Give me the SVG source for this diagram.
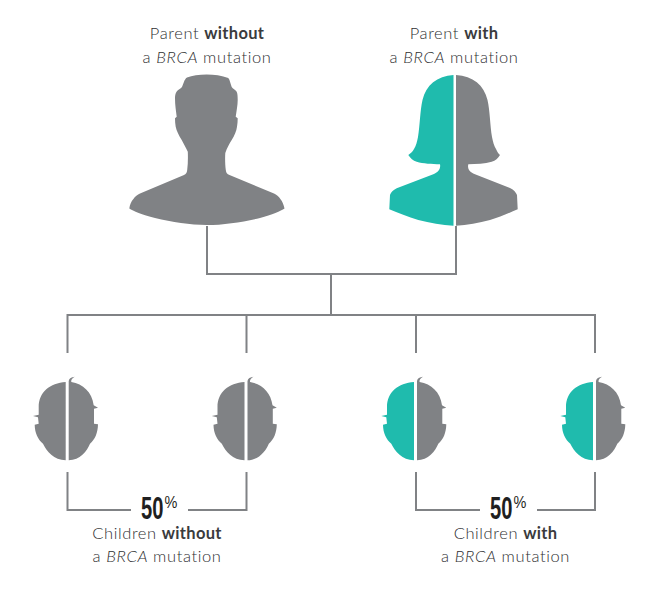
<svg xmlns="http://www.w3.org/2000/svg" width="666" height="608" viewBox="0 0 666 608">
<style>
.t{font-family:"Lato","Open Sans","Liberation Sans",sans-serif;font-weight:300;font-size:16.5px;fill:#2f3032;text-anchor:middle;letter-spacing:.6px}
.b{font-weight:700;fill:#3a3b3d;letter-spacing:.3px}
.i{font-style:italic}
.c{fill:none;stroke:#808285;stroke-width:2}
.g{fill:#808285}
.e{fill:#1fbbad}
.n{font-family:"Liberation Sans",sans-serif;font-weight:700;fill:#1f1f21}
.p{font-family:"Liberation Sans",sans-serif;font-weight:400;fill:#1f1f21}
</style>
<defs>
<path id="hl" d="M65.700 382C50 383 38.700 392 38.700 407L38.700 414.700L33 416L38 417.300L38.700 423.700L34.700 424.700C34.800 433 38 439.500 43 443.700C46.500 451 54 460 65.700 460.300Z"/>
<path id="hr" d="M68.700 460.300C80 460 87 451 90 443.700C95 439.500 97.800 433 98 424.300L94 423.700L94 408.700L98 407.700L93.700 405.300C92 392 83 384 71.300 382C70.800 380 72 378.500 74.700 376.700C71.500 377 69 378.500 68.700 381Z"/>
</defs>
<g id="connectors">
<path class="c" d="M207 226V274H456V226M331 274V315M67.500 353V315H595V353M246.500 315V353M416 315V353"/>
<path class="c" d="M67.500 472V510H131M188 510H246.500V472M416 472V510H480M537 510H595V472"/>
</g>
<g id="parent-without">
<path class="g" d="M206.700 74.500C199 74.500 192 75.500 187 77.500C184 79.500 183.500 84 182 87C180.500 89 178 89.500 176.700 91.500C175.300 93.500 175 96 175 98.300C175 105 176 111 176.700 116.700L175 118.300C175 121 175.200 124 175.700 126.700C176.500 131 179 135.500 181.700 140C183.500 143.500 186 148 187.800 151.700C188 157 188 164 187.200 170C186.800 173 186 174 184 175L140 193.500C135 196 130.500 201 129.300 208.500C133 211 142 215 155 218C172 222 190 225 206.700 225C224 225 243 222 260 218C272 215 281 211 284.500 208.500C283 201 279 196 274 193.500L229.500 175C227 174 226.200 173 225.800 170C225 164 225 157 225.300 153C227 148 229.500 143.500 231.700 140C234.500 135.500 236.500 131 237 126.700C237.500 124 237.700 121 237.700 118.300L235.700 116.700C236.500 111 237.700 105 237.700 100C237.700 96 237.500 93.500 236.700 91.700C235 89.500 233 89 231.700 87C230.500 84 230 80 228.300 78C222 75.500 214 74.500 206.700 74.500Z"/>
<text class="t" x="207" y="38.500">Parent <tspan class="b">without</tspan></text>
<text class="t" x="207" y="62.500">a <tspan class="i">BRCA</tspan> mutation</text>
</g>
<g id="parent-with">
<path class="e" d="M453.500 75C437 76 426 85 422.500 100C420 111 420 125 418 137C417 142 416 146 414 149C412.500 152 410.500 153.500 408.300 155C410.500 158.500 413 160.500 416.700 161.700C423 163.700 432 164 440 164.300C440.500 166.500 440 168.500 439 170C437.500 172 435.500 173.500 433.300 174.300L396.700 188.300C393 190 391 192.500 390 195L389.300 209.300C398 213 408 217 418.300 220C430 223 442 225 453.500 225.700Z"/>
<path class="g" d="M456 75C473 76 484 85 487.500 100C490 111 490 125 492 137C493 142 494 146 496 149C497.500 152 498 153.500 500 155C498 158.500 495.500 160.500 491.700 161.700C485 163.700 476 164 468.300 164.300C467.800 166.500 468 168.500 469 170C470.500 172 472.500 173.500 475 174.300L510 188C514 190 516 192.500 517 195L517.700 209.300C509 213 500 217 490 220C479 223 467 225 456 225.700Z"/>
<text class="t" x="454" y="38.500">Parent <tspan class="b">with</tspan></text>
<text class="t" x="454" y="62.500">a <tspan class="i">BRCA</tspan> mutation</text>
</g>
<g id="child-1"><use class="g" href="#hl"/><use class="g" href="#hr"/></g>
<g id="child-2" transform="translate(178.800 0)"><use class="g" href="#hl"/><use class="g" href="#hr"/></g>
<g id="child-3" transform="translate(348.300 0)"><use class="e" href="#hl"/><use class="g" href="#hr"/></g>
<g id="child-4" transform="translate(527.300 0)"><use class="e" href="#hl"/><use class="g" href="#hr"/></g>
<g id="label-without">
<text class="n" transform="translate(141 518.500) scale(.64 1)" font-size="31.500">50</text>
<text class="p" transform="translate(164.500 507.500) scale(.85 1)" font-size="17">%</text>
<text class="t" x="157" y="539">Children <tspan class="b">without</tspan></text>
<text class="t" x="157" y="561.500">a <tspan class="i">BRCA</tspan> mutation</text>
</g>
<g id="label-with">
<text class="n" transform="translate(490 518.500) scale(.64 1)" font-size="31.500">50</text>
<text class="p" transform="translate(513.500 507.500) scale(.85 1)" font-size="17">%</text>
<text class="t" x="505.500" y="539">Children <tspan class="b">with</tspan></text>
<text class="t" x="505.500" y="561.500">a <tspan class="i">BRCA</tspan> mutation</text>
</g>
</svg>
